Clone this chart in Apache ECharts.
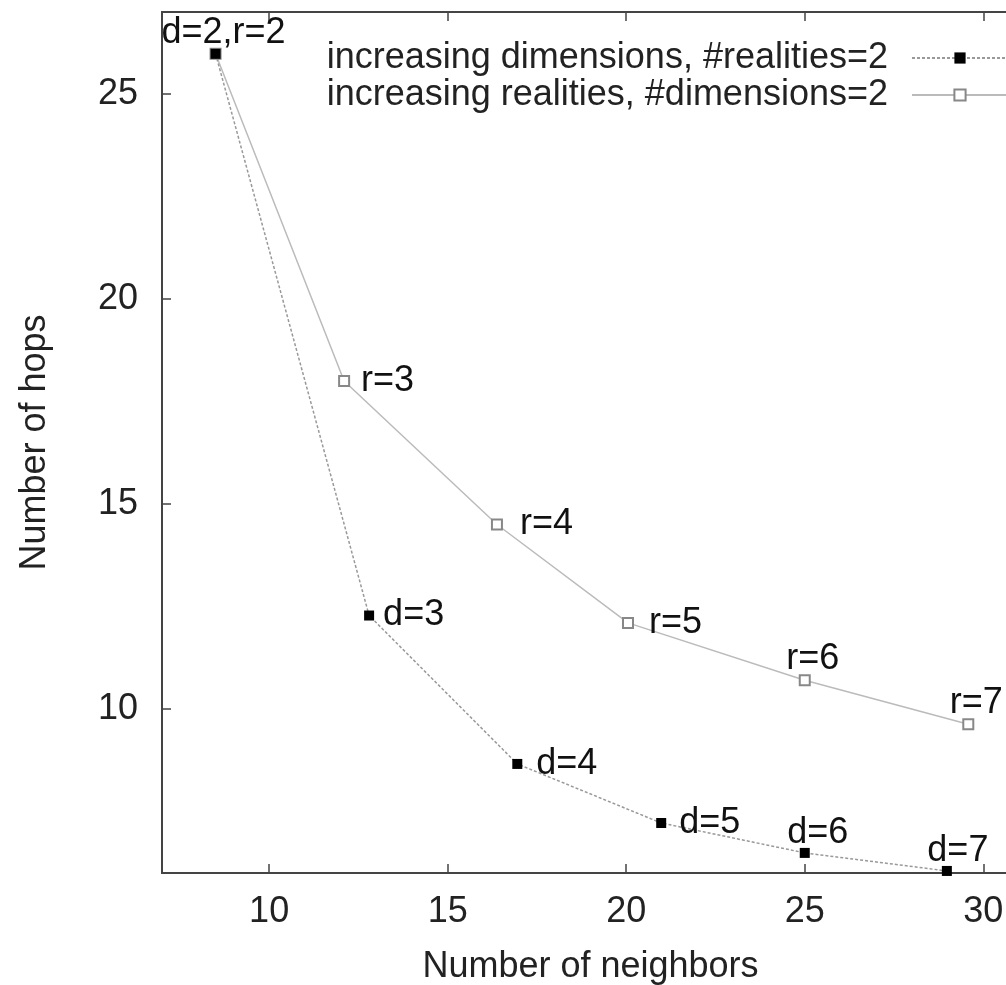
<!DOCTYPE html>
<html>
<head>
<meta charset="utf-8">
<script src="https://cdn.jsdelivr.net/npm/echarts@6/dist/echarts.min.js"></script>
<style>
  html, body { margin: 0; padding: 0; background: #fff; overflow: hidden; }
  #chart { width: 1006px; height: 985px; }
</style>
</head>
<body>
<div id="chart"></div>
<script>
// increasing dimensions, #realities=2
var dimNeighbors = [8.5, 12.8, 16.95, 20.98, 25.0, 28.98]
var dimHops = [25.98, 12.28, 8.66, 7.22, 6.49, 6.05]
var dimLabels = ['d=2,r=2', 'd=3', 'd=4', 'd=5', 'd=6', 'd=7']

// increasing realities, #dimensions=2
var realNeighbors = [8.5, 12.1, 16.38, 20.05, 25.0, 29.58]
var realHops = [25.98, 18.0, 14.5, 12.1, 10.7, 9.63]
var realLabels = ['', 'r=3', 'r=4', 'r=5', 'r=6', 'r=7']

var xTicks = [10, 15, 20, 25, 30]
var yTicks = [10, 15, 20, 25]

// label placement next to each marker: [position, distance, dx, dy]
var dimLabelPos = [['top', -2, 8, 0], ['right', 9, 0, 0], ['right', 14, 0, 0], ['right', 13, 0, 0], ['top', -3, 13, 0], ['top', -3, 11, 0]]
var realLabelPos = [['top', 0, 0, 0], ['right', 11, 0, 0], ['right', 17, 0, 0], ['right', 15, 0, 0], ['top', -3, 8, 0], ['top', -3, 8, 0]]

function build_points (xs, ys, labels, pos) {
  var pts = []
  for (var i = 0; i < xs.length; i++) {
    pts.push({
      value: [xs[i], ys[i]],
      label: {
        show: labels[i] !== '',
        formatter: labels[i],
        position: pos[i][0],
        distance: pos[i][1],
        offset: [pos[i][2], pos[i][3]]
      }
    })
  }
  return pts
}

var font = "'Liberation Sans', Arial, Helvetica, sans-serif"
var axisCol = '#444'
var fs = 36

var chart = echarts.init(document.getElementById('chart'))

var option = {
  animation: false,
  textStyle: { fontFamily: font },
  grid: {
    left: 162,
    top: 12,
    right: -13,
    bottom: 112,
    outerBoundsMode: 'none',
    containLabel: false,
    show: true,
    borderColor: axisCol,
    borderWidth: 2,
    backgroundColor: 'transparent'
  },
  legend: {
    orient: 'vertical',
    right: -8,
    top: 35,
    align: 'right',
    itemWidth: 96,
    itemHeight: 14,
    itemGap: 1,
    textStyle: { fontSize: fs, color: '#222', fontFamily: font, padding: [0, 19, 0, 0] },
    data: ['increasing dimensions, #realities=2', 'increasing realities, #dimensions=2']
  },
  xAxis: [
    {
      type: 'value',
      min: 7,
      max: 31,
      name: 'Number of neighbors',
      nameLocation: 'middle',
      nameGap: 76,
      nameTextStyle: { fontSize: fs, color: '#222', fontFamily: font },
      axisLine: { show: true, lineStyle: { color: axisCol, width: 2 } },
      axisTick: { show: true, inside: true, length: 9, lineStyle: { color: axisCol, width: 1.5 }, customValues: xTicks },
      axisLabel: { fontSize: fs, color: '#222', margin: 21, customValues: xTicks },
      splitLine: { show: false }
    },
    {
      type: 'value',
      min: 7,
      max: 31,
      position: 'top',
      axisLine: { show: true, lineStyle: { color: axisCol, width: 2 } },
      axisTick: { show: true, inside: true, length: 9, lineStyle: { color: axisCol, width: 1.5 }, customValues: xTicks },
      axisLabel: { show: false },
      splitLine: { show: false }
    }
  ],
  yAxis: {
    type: 'value',
    min: 6,
    max: 27,
    name: 'Number of hops',
    nameLocation: 'middle',
    nameGap: 109,
    nameTextStyle: { fontSize: fs, color: '#222', fontFamily: font },
    axisLine: { show: true, lineStyle: { color: axisCol, width: 2 } },
    axisTick: { show: true, inside: true, length: 9, lineStyle: { color: axisCol, width: 1.5 }, customValues: yTicks },
    axisLabel: { fontSize: fs, color: '#222', margin: 24, customValues: yTicks },
    splitLine: { show: false }
  },
  series: [
    {
      name: 'increasing realities, #dimensions=2',
      type: 'line',
      symbol: 'emptyRect',
      symbolSize: 10,
      itemStyle: { color: '#888', borderWidth: 1.5 },
      lineStyle: { color: '#bbb', width: 1.5 },
      label: { fontSize: fs, color: '#111', fontFamily: font },
      z: 2,
      data: build_points(realNeighbors, realHops, realLabels, realLabelPos)
    },
    {
      name: 'increasing dimensions, #realities=2',
      type: 'line',
      symbol: 'rect',
      symbolSize: 10,
      itemStyle: { color: '#000' },
      lineStyle: { color: '#999', width: 1.5, type: [3, 2] },
      label: { fontSize: fs, color: '#111', fontFamily: font },
      z: 3,
      data: build_points(dimNeighbors, dimHops, dimLabels, dimLabelPos)
    }
  ]
}

chart.setOption(option)
</script>
</body>
</html>
